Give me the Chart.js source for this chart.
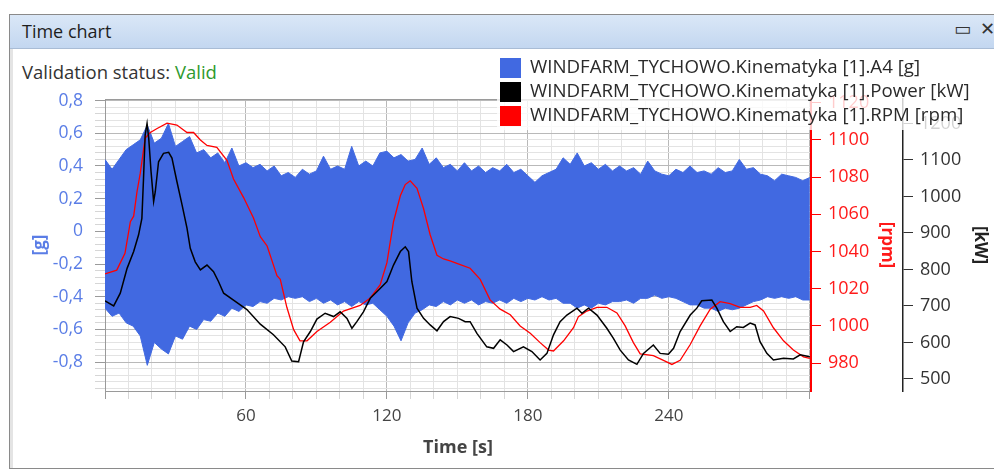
<!DOCTYPE html>
<html lang="en">
<head>
<meta charset="UTF-8" />
<title>Time chart</title>
<script src="https://cdn.jsdelivr.net/npm/chart.js"></script>
<style>
  html, body { margin: 0; padding: 0; background: #fff; }
  body { width: 994px; height: 470px; position: relative; overflow: hidden; font-family: "Open Sans", sans-serif; color: #222; }
  .frame { position: absolute; left: 9px; top: 14px; width: 1000px; height: 453px; border: 1px solid #8a8a8a; border-right: none; box-shadow: inset 3px 0 0 #e4e4e4; }
  .titlebar { position: absolute; left: 10px; top: 15px; width: 990px; height: 33px; background: linear-gradient(#dae7f7, #c3d7f0); border-bottom: 1px solid #a9bcd5; }
  .titlebar .name { position: absolute; left: 12px; top: 4px; font-size: 18px; color: #1e1e1e; }
  .titlebar .btn { position: absolute; top: 3px; font-family: "DejaVu Sans", sans-serif; font-size: 18px; color: #333; }
  .status { position: absolute; left: 22px; top: 59px; font-size: 18.5px; color: #333; }
  .status .ok { color: #2e9a2e; }
  #wrap { position: absolute; left: 0; top: 0; width: 994px; height: 470px; }
  .legend { position: absolute; left: 497px; top: 57px; width: 472px; height: 73px; background: rgba(255,255,255,0.78); }
  .legend .row { position: absolute; left: 3px; height: 22px; white-space: nowrap; }
  .legend .sw { position: absolute; left: 0; top: 1px; width: 21px; height: 20px; }
  .legend .txt { position: absolute; left: 30px; top: -4px; font-size: 18.7px; color: #2a2a2a; }
</style>
</head>
<body>
<div class="frame"></div>
<div class="titlebar">
  <span class="name">Time chart</span>
  <span class="btn" style="left:944px">&#9645;</span>
  <span class="btn" style="left:970px">&#10005;</span>
</div>
<div class="status">Validation status: <span class="ok">Valid</span></div>
<div id="wrap"><canvas id="timeChart" width="994" height="470"></canvas></div>
<div class="legend" id="legend"></div>

<script>
  // x axis (seconds)
  const timeLabels = [60, 120, 180, 240];

  // A4 vibration band: upper / lower envelope read every 3 s
  const bandTime = [0, 3, 6, 9, 12, 15, 18, 21, 24, 27, 30, 33, 36, 39, 42, 45, 48, 51, 54, 57,
    60, 63, 66, 69, 72, 75, 78, 81, 84, 87, 90, 93, 96, 99, 102, 105, 108, 111, 114, 117,
    120, 123, 126, 129, 132, 135, 138, 141, 144, 147, 150, 153, 156, 159, 162, 165, 168, 171, 174, 177,
    180, 183, 186, 189, 192, 195, 198, 201, 204, 207, 210, 213, 216, 219, 222, 225, 228, 231, 234, 237,
    240, 243, 246, 249, 252, 255, 258, 261, 264, 267, 270, 273, 276, 279, 282, 285, 288, 291, 294, 297, 300];
  const a4Upper = [0.44, 0.38, 0.44, 0.50, 0.53, 0.56, 0.65, 0.54, 0.57, 0.66, 0.52, 0.55, 0.58, 0.48, 0.50, 0.45, 0.48, 0.42, 0.51, 0.40,
    0.42, 0.39, 0.41, 0.37, 0.40, 0.34, 0.36, 0.33, 0.38, 0.35, 0.37, 0.46, 0.38, 0.40, 0.38, 0.52, 0.40, 0.43, 0.40, 0.48,
    0.49, 0.45, 0.47, 0.43, 0.44, 0.51, 0.41, 0.45, 0.39, 0.41, 0.37, 0.42, 0.37, 0.40, 0.36, 0.39, 0.37, 0.41, 0.36, 0.38,
    0.34, 0.30, 0.34, 0.36, 0.38, 0.45, 0.41, 0.48, 0.40, 0.42, 0.38, 0.41, 0.37, 0.40, 0.37, 0.39, 0.35, 0.43, 0.37, 0.35,
    0.34, 0.38, 0.36, 0.40, 0.36, 0.37, 0.35, 0.39, 0.36, 0.37, 0.44, 0.38, 0.39, 0.35, 0.34, 0.31, 0.35, 0.34, 0.33, 0.31, 0.33];
  const a4Lower = [-0.47, -0.52, -0.50, -0.56, -0.58, -0.64, -0.82, -0.68, -0.72, -0.75, -0.64, -0.66, -0.58, -0.60, -0.54, -0.55, -0.50, -0.52, -0.47, -0.49,
    -0.45, -0.46, -0.43, -0.44, -0.41, -0.42, -0.40, -0.41, -0.40, -0.43, -0.41, -0.44, -0.42, -0.45, -0.43, -0.46, -0.43, -0.45, -0.44, -0.48,
    -0.52, -0.58, -0.67, -0.56, -0.50, -0.48, -0.45, -0.46, -0.43, -0.45, -0.42, -0.44, -0.42, -0.45, -0.43, -0.44, -0.42, -0.44, -0.41, -0.43,
    -0.41, -0.42, -0.40, -0.42, -0.41, -0.44, -0.44, -0.47, -0.45, -0.47, -0.44, -0.45, -0.43, -0.43, -0.42, -0.44, -0.41, -0.41, -0.39, -0.41,
    -0.40, -0.41, -0.43, -0.45, -0.45, -0.47, -0.47, -0.49, -0.47, -0.48, -0.47, -0.45, -0.43, -0.42, -0.40, -0.41, -0.40, -0.41, -0.40, -0.42, -0.42];

  // RPM [rpm]
  const rpmTime = [0, 5, 8.5, 10.8, 12.2, 13.6, 15, 17.1, 19.3, 22, 26.4, 30.6, 34.9, 37.7, 40.6, 43.4, 47.6, 51.9, 54.7, 59,
    63.2, 66.1, 69, 73.2, 74.6, 77.4, 80.3, 83, 86, 90.2, 95.9, 101.5, 108.6, 112.9, 117.1, 120, 122.8, 125.7, 127.8, 129.9,
    132.8, 135.6, 138.4, 141.3, 144.1, 146.9, 151.2, 155.4, 159.7, 163.9, 168.2, 172.5, 176.7, 181, 185.2, 188.8, 190.9, 195.2, 199.4, 201.5,
    205.1, 209.4, 213.6, 217.9, 221.4, 224.9, 227.8, 233.4, 237.7, 241.3, 244.8, 249.1, 253.3, 257.6, 261.8, 266.1, 270.3, 274.6, 277.4, 280.3,
    284.5, 288.8, 293, 297.3, 300];
  const rpmValues = [1028, 1030, 1039, 1056, 1059, 1072, 1082, 1101, 1104, 1106, 1109, 1108, 1104, 1104, 1100, 1097, 1096, 1089, 1079, 1069,
    1058, 1048, 1043, 1027, 1025, 1010, 998, 992, 992, 997, 1002, 1008, 1011, 1015, 1022, 1034, 1056, 1070, 1076, 1078,
    1074, 1063, 1049, 1038, 1036, 1035, 1033, 1031, 1025, 1014, 1009, 1006, 1000, 996, 991, 987, 986.5, 992, 999, 1005,
    1008, 1010, 1010, 1007, 1000, 991, 985, 984, 981.5, 979.3, 981.5, 990, 1000, 1009, 1013, 1012, 1010, 1010, 1011, 1008,
    999, 992, 987, 983.4, 982.5];

  // Power [kW]
  const powerTime = [0, 3.7, 6.5, 9.4, 12.2, 14.3, 15.7, 16.4, 17.1, 17.9, 18.6, 19.6, 20.7, 21.4, 22.8, 24.9, 27.1, 28.5, 30.6, 32.8,
    34.9, 36.3, 38.4, 40.6, 43.4, 46.2, 48.3, 50.5, 54.7, 60.4, 66.1, 71.7, 76.7, 79.5, 82.4, 84.5, 87.4, 90.2, 93.7, 97.3,
    100.1, 103, 105.1, 107.2, 110, 112.9, 117.1, 120, 122.8, 125.7, 127.8, 129.2, 130.6, 132.8, 135.6, 138.4, 141.3, 144.1, 146.9, 150.5,
    153.3, 155.4, 158.3, 162.5, 165.4, 168.2, 171.1, 173.9, 178.1, 181.7, 185.2, 188.1, 190.9, 193.7, 196.6, 200.9, 203, 205.8, 209.4, 213.6,
    216.4, 219.3, 222.8, 226.4, 229.2, 233.4, 236.3, 239.8, 242, 244.8, 249.1, 251.9, 254, 258.3, 260.4, 263.2, 266.1, 268.9, 271.7, 274.6,
    276.7, 278.8, 281.7, 284.5, 288.8, 293, 295.9, 300];
  const powerValues = [714, 700, 735, 803, 849, 895, 940, 1050, 1169, 1200, 1160, 1068, 986, 1013, 1095, 1118, 1121, 1105, 1041, 977,
    913, 858, 821, 799, 812, 794, 767, 735, 716, 690, 650, 621, 588, 549, 547, 602, 630, 664, 680, 671,
    684, 666, 639, 657, 684, 721, 748, 767, 812, 849, 862, 849, 767, 694, 666, 648, 632, 657, 671, 666,
    657, 657, 625, 588, 584, 607, 593, 575, 588, 575, 552, 570, 621, 657, 675, 694, 680, 694, 675, 639,
    611, 579, 552, 540, 570, 593, 570, 568, 584, 630, 675, 694, 714, 716, 694, 657, 630, 643, 641, 653,
    648, 602, 570, 552, 557, 555, 566, 561];

  // axis tick labels
  const gTicks = [-0.8, -0.6, -0.4, -0.2, 0, 0.2, 0.4, 0.6, 0.8];
  const rpmTicks = [980, 1000, 1020, 1040, 1060, 1080, 1100, 1120];
  const kwTicks = [500, 600, 700, 800, 900, 1000, 1100, 1200];

  const seriesNames = ['WINDFARM_TYCHOWO.Kinematyka [1].A4 [g]', 'WINDFARM_TYCHOWO.Kinematyka [1].Power [kW]', 'WINDFARM_TYCHOWO.Kinematyka [1].RPM [rpm]'];
  const seriesColors = ['#4169e1', '#000000', '#ff0000'];

  // grid positions (minor every 10 s / 0.04 g)
  const xGrid = [];
  for (let s = 0; s <= 300; s += 10) xGrid.push(s);
  const gGrid = [];
  for (let i = -24; i <= 20; i++) gGrid.push(Math.round(i * 4) / 100);

  const pts = (xs, ys) => xs.map((x, i) => ({ x: x, y: ys[i] }));
  const isMajorG = v => Math.round(v * 100) % 20 === 0;
  const fmtG = v => v === 0 ? '0' : v.toFixed(1).replace('.', ',');

  Chart.defaults.font.family = '"Open Sans", sans-serif';
  Chart.defaults.font.size = 17;

  const plotBorder = {
    id: 'plotBorder',
    beforeDatasetsDraw(chart) {
      const { ctx, chartArea: a } = chart;
      ctx.save();
      ctx.strokeStyle = '#9a9a9a';
      ctx.lineWidth = 1;
      ctx.beginPath();
      ctx.moveTo(a.left, a.top + 0.5);
      ctx.lineTo(a.right, a.top + 0.5);
      ctx.stroke();
      ctx.restore();
    }
  };

  new Chart(document.getElementById('timeChart'), {
    type: 'line',
    data: {
      datasets: [
        { label: seriesNames[0], data: pts(bandTime, a4Upper), yAxisID: 'g', borderColor: seriesColors[0], backgroundColor: seriesColors[0], borderWidth: 1, fill: '+1', order: 3 },
        { label: seriesNames[0], data: pts(bandTime, a4Lower), yAxisID: 'g', borderColor: seriesColors[0], borderWidth: 1, fill: false, order: 2 },
        { label: seriesNames[2], data: pts(rpmTime, rpmValues), yAxisID: 'rpm', borderColor: seriesColors[2], borderWidth: 1.3, fill: false, order: 1 },
        { label: seriesNames[1], data: pts(powerTime, powerValues), yAxisID: 'kw', borderColor: seriesColors[1], borderWidth: 1.5, fill: false, order: 0 }
      ]
    },
    options: {
      responsive: false,
      animation: false,
      elements: { point: { radius: 0 }, line: { tension: 0 } },
      layout: { padding: { left: 14, right: 0, top: 99, bottom: 0 } },
      plugins: { legend: { display: false }, tooltip: { enabled: false } },
      scales: {
        x: {
          type: 'linear', min: 0, max: 300.5,
          afterBuildTicks: s => { s.ticks = xGrid.map(v => ({ value: v })); },
          afterFit: s => { s.height = 79; },
          grid: {
            color: c => c.tick && c.tick.value % 60 === 0 ? '#b9b9b9' : '#e3e3e3',
            tickColor: c => c.tick && c.tick.value % 60 === 0 ? '#9a9a9a' : '#d6d6d6',
            tickLength: 8
          },
          border: { color: '#9a9a9a' },
          ticks: { autoSkip: false, maxRotation: 0, padding: 7, color: '#444',
            callback: v => timeLabels.includes(v) ? String(v) : '' },
          title: { display: true, text: 'Time [s]', color: '#444', font: { size: 18, weight: 'bold' }, padding: { top: 0, bottom: 11 } }
        },
        g: {
          position: 'left', min: -0.977, max: 0.81,
          afterBuildTicks: s => { s.ticks = gGrid.map(v => ({ value: v })); },
          afterFit: s => { s.width = 91; },
          grid: {
            color: c => c.tick && isMajorG(c.tick.value) ? '#b9b9b9' : '#e3e3e3',
            tickColor: c => c.tick && isMajorG(c.tick.value) ? '#9a9a9a' : '#d6d6d6',
            tickLength: 10
          },
          border: { color: '#9a9a9a' },
          ticks: { autoSkip: false, padding: 12, color: '#5a7de6', font: { size: 17.5 },
            callback: v => gTicks.includes(v) ? fmtG(v) : '' },
          title: { display: true, text: '[g]', color: '#5a7de6', font: { size: 17, weight: 'bold' }, padding: { top: 16, bottom: 0 } }
        },
        rpm: {
          position: 'right', min: 965, max: 1122,
          afterBuildTicks: s => { s.ticks = rpmTicks.map(v => ({ value: v })); },
          afterFit: s => { s.width = 92; },
          grid: { drawOnChartArea: false, tickColor: '#ff0000', tickLength: 10 },
          border: { color: '#ff0000', width: 2 },
          ticks: { autoSkip: false, padding: 7, color: '#ff1a1a', font: { size: 18 }, callback: v => String(v) },
          title: { display: true, text: '[rpm]', color: '#ff1a1a', font: { size: 17, weight: 'bold' }, padding: { top: 6, bottom: 0 } }
        },
        kw: {
          position: 'right', min: 467, max: 1267,
          afterBuildTicks: s => { s.ticks = kwTicks.map(v => ({ value: v })); },
          afterFit: s => { s.width = 91; },
          grid: { drawOnChartArea: false, tickColor: '#333', tickLength: 10 },
          border: { color: '#222', width: 1.5 },
          ticks: { autoSkip: false, padding: 7, color: '#333', font: { size: 18 }, callback: v => String(v) },
          title: { display: true, text: '[kW]', color: '#222', font: { size: 17, weight: 'bold' }, padding: { top: 4, bottom: 0 } }
        }
      }
    },
    plugins: [plotBorder]
  });

  // legend on top of the plot, semi transparent like the original control
  const legend = document.getElementById('legend');
  seriesNames.forEach((name, i) => {
    const row = document.createElement('div');
    row.className = 'row';
    row.style.top = (i * 24) + 'px';
    row.innerHTML = '<span class="sw" style="background:' + seriesColors[i] + '"></span><span class="txt">' + name + '</span>';
    legend.appendChild(row);
  });
</script>
</body>
</html>
